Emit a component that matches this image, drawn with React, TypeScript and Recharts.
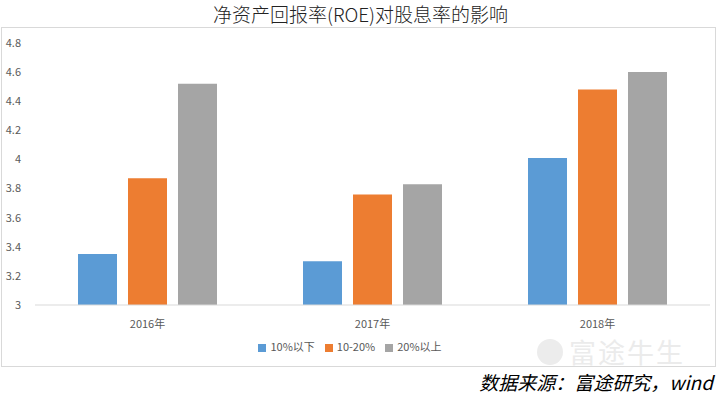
import { BarChart, Bar, XAxis, YAxis, Legend } from 'recharts'

const years = ['2016年', '2017年', '2018年']
const below10 = [3.35, 3.3, 4.01]
const mid10to20 = [3.87, 3.76, 4.48]
const above20 = [4.52, 3.83, 4.6]
const yTicks = [3, 3.2, 3.4, 3.6, 3.8, 4, 4.2, 4.4, 4.6, 4.8]

const data = years.map((y, i) => ({
  year: y,
  a: below10[i],
  b: mid10to20[i],
  c: above20[i],
}))

const font = '"Noto Sans CJK SC", "Noto Sans", sans-serif'

export default function App() {
  return (
    <div style={{ position: 'absolute', left: 0, top: 0, width: 721, height: 397, background: '#fff', fontFamily: font, overflow: 'hidden' }}>
      <div style={{ position: 'absolute', top: 0, left: 0, width: 721, textAlign: 'center', fontSize: 19, lineHeight: '28px', color: '#222', fontWeight: 300 }}>
        净资产回报率(ROE)对股息率的影响
      </div>
      {/* 边框 */}
      <div style={{ position: 'absolute', left: 1, top: 27, width: 715, height: 340, border: '1px solid #d9d9d9', boxSizing: 'border-box' }} />
      {/* 水印 */}
      <div style={{ position: 'absolute', left: 537, top: 338, display: 'flex', alignItems: 'center', height: 28 }}>
        <div style={{ width: 26, height: 26, borderRadius: 13, background: '#ececec', marginRight: 6 }} />
        <div style={{ fontSize: 27, color: '#ebebeb', lineHeight: '28px', letterSpacing: 2 }}>富途牛生</div>
      </div>
      <div style={{ position: 'absolute', top: 0, left: 0 }}>
        <BarChart width={721} height={335} data={data} margin={{ top: 43, right: 11, left: 0, bottom: 0 }} barSize={39} barGap={11}>
          <XAxis
            dataKey="year"
            height={30}
            tickLine={false}
            axisLine={{ stroke: '#d9d9d9' }}
            tick={{ fontSize: 11, fill: '#595959', fontFamily: font }}
            tickMargin={9}
          />
          <YAxis
            domain={[3, 4.8]}
            ticks={yTicks}
            width={35}
            axisLine={false}
            tickLine={false}
            tick={{ fontSize: 11, fill: '#595959', fontFamily: font }}
            tickMargin={8}
          />
          <Legend
            verticalAlign="middle"
            align="center"
            iconType="square"
            iconSize={8}
            wrapperStyle={{ top: 338, fontSize: 11, color: '#595959', fontFamily: font }}
            formatter={(v) => <span style={{ color: '#595959' }}>{v}</span>}
          />
          <Bar dataKey="a" name="10%以下" fill="#5B9BD5" isAnimationActive={false} />
          <Bar dataKey="b" name="10-20%" fill="#ED7D31" isAnimationActive={false} />
          <Bar dataKey="c" name="20%以上" fill="#A5A5A5" isAnimationActive={false} />
        </BarChart>
      </div>
      <div style={{ position: 'absolute', right: 8, top: 369, fontSize: 19, fontStyle: 'italic', color: '#000', lineHeight: '26px' }}>
        数据来源：富途研究，wind
      </div>
    </div>
  )
}
